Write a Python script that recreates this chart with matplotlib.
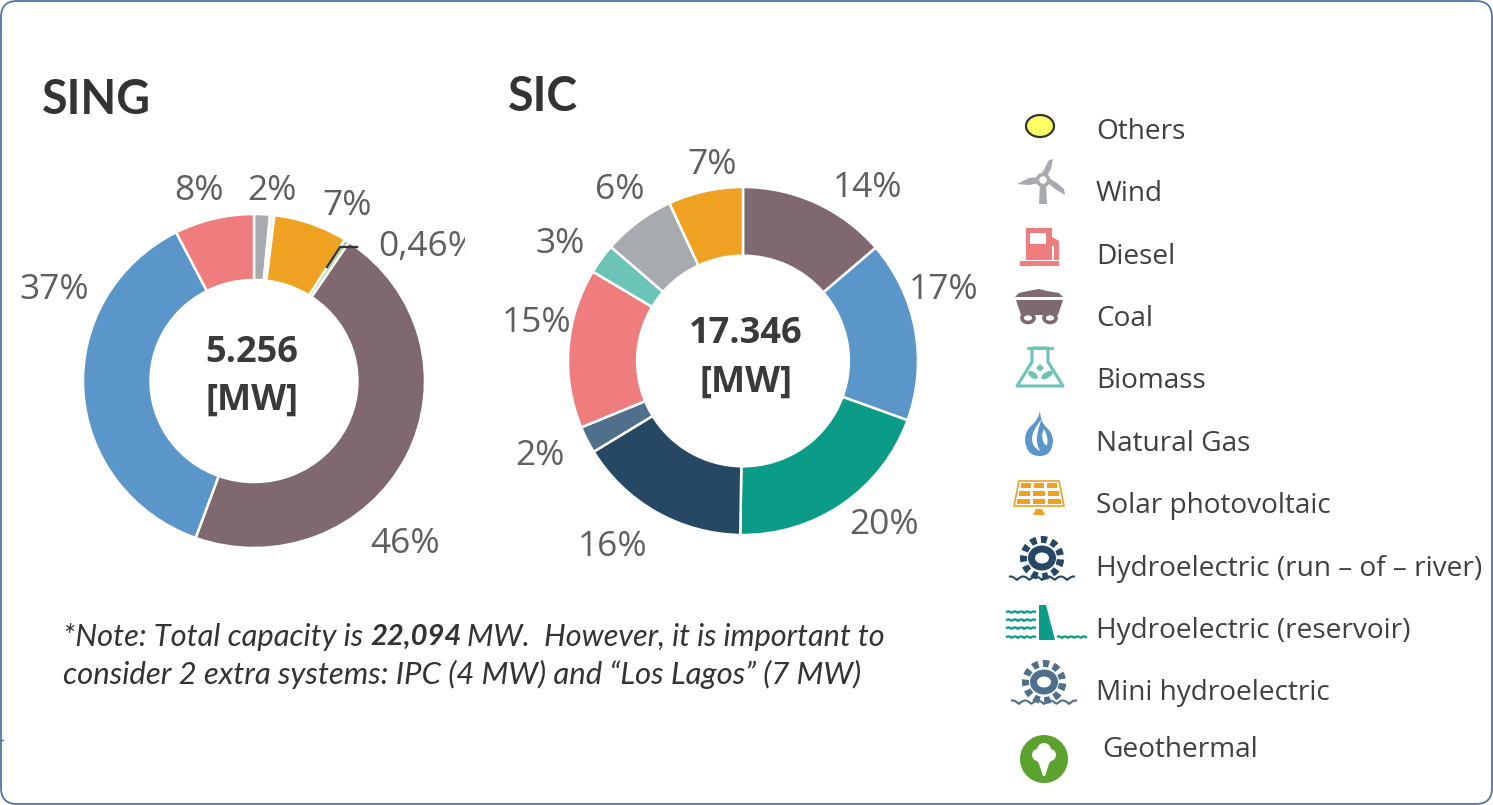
import numpy as np
import matplotlib
matplotlib.use("Agg")
import matplotlib.pyplot as plt
from matplotlib.patches import FancyBboxPatch, Ellipse, Polygon, Rectangle, Circle, Wedge, PathPatch
from matplotlib.path import Path

W, H = 1493, 805

# ---- data ----
sing_names = ["Wind", "Others", "Solar photovoltaic", "Geothermal", "Coal", "Natural Gas", "Diesel"]
sing_values = [1.5, 0.4, 7.0, 0.46, 46.0, 36.8, 7.5]
sing_total = ["5.256", "[MW]"]

sic_names = ["Coal", "Natural Gas", "Hydroelectric (reservoir)", "Hydroelectric (run – of – river)",
             "Mini hydroelectric", "Diesel", "Biomass", "Wind", "Solar photovoltaic"]
sic_values = [13.7, 16.8, 19.7, 16.0, 2.5, 14.8, 2.8, 6.7, 6.9]
sic_total = ["17.346", "[MW]"]

legend_names = ["Others", "Wind", "Diesel", "Coal", "Biomass", "Natural Gas", "Solar photovoltaic",
                "Hydroelectric (run – of – river)", "Hydroelectric (reservoir)", "Mini hydroelectric", "Geothermal"]

colors = {
    "Others": "#F3F3DC", "Wind": "#A7ABB0", "Diesel": "#EF7D7D", "Coal": "#7F6870",
    "Biomass": "#6BC4B5", "Natural Gas": "#5B96CB", "Solar photovoltaic": "#EFA122",
    "Hydroelectric (run – of – river)": "#274864", "Hydroelectric (reservoir)": "#0A9C86",
    "Mini hydroelectric": "#4F6F8A", "Geothermal": "#A9D18E",
}

FONT = "Open Sans"

fig = plt.figure(figsize=(W / 100, H / 100), dpi=100, facecolor="white")
bg = fig.add_axes([0, 0, 1, 1])
bg.set_xlim(0, W); bg.set_ylim(H, 0); bg.axis("off")

bg.add_patch(FancyBboxPatch((1, 1), W - 2, H - 2, boxstyle="round,pad=0,rounding_size=16",
                            fc="white", ec="#4F76A6", lw=1.3))
bg.plot([0, 3], [740, 740], color="#4F76A6", lw=1)


def donut(cx, cy, rx, ry, hole, names, values):
    ax = fig.add_axes([(cx - rx) / W, 1 - (cy + ry) / H, 2 * rx / W, 2 * ry / H])
    ax.pie(values, colors=[colors[n] for n in names], startangle=90, counterclock=False,
           radius=1, wedgeprops=dict(width=1 - hole, edgecolor="white", linewidth=1.8))
    ax.set_xlim(-1, 1); ax.set_ylim(-1, 1); ax.set_aspect("auto")
    for p in ax.patches:
        p.set_clip_on(False)
    return ax


donut(254, 381, 171, 167, 0.605, sing_names, sing_values)
donut(743, 361, 175, 174, 0.605, sic_names, sic_values)

# overlay for what sits on the donuts
fg = fig.add_axes([0, 0, 1, 1], zorder=10)
fg.set_xlim(0, W); fg.set_ylim(H, 0); fg.axis("off"); fg.patch.set_alpha(0)

# titles
fg.text(42, 100, "SING", fontsize=33.5, fontweight="bold", family="Lato", color="#333333", va="center")
fg.text(508, 97, "SIC", fontsize=33.5, fontweight="bold", family="Lato", color="#333333", va="center")

# centre totals
for (x, y, s) in [(252, 353, sing_total[0]), (252, 401, sing_total[1]),
                  (746, 334, sic_total[0]), (746, 383, sic_total[1])]:
    fg.text(x, y, s, fontsize=26, fontweight="bold", family=FONT, color="#3A3A3A", ha="center", va="center")

# percent labels
pct = [("8%", 199, 191), ("2%", 272, 191), ("7%", 347, 206), ("46%", 405, 544), ("37%", 54, 290),
       ("14%", 868, 188), ("17%", 944, 290), ("20%", 884, 525), ("16%", 613, 547), ("2%", 540, 456),
       ("15%", 537, 323), ("3%", 560, 244), ("6%", 620, 190), ("7%", 712, 165)]
for s, x, y in pct:
    fg.text(x, y, s, fontsize=25.5, family=FONT, color="#5F5F5F", ha="center", va="center")
t = fg.text(378, 247, "0,46%", fontsize=25.5, family=FONT, color="#5F5F5F", ha="left", va="center", clip_on=True)
t.set_clip_path(Rectangle((0, 0), 465, H, transform=fg.transData))
fg.plot([327, 340, 357], [267, 247, 247], color="#333333", lw=1.7)

# note
NOTE = dict(style="italic", family="Lato", color="#333333", va="center")
fg.text(63, 636.5, "*Note: Total capacity is", fontsize=22.2, **NOTE)
fg.text(370, 636.5, "22,094", fontsize=21, fontweight="bold", **NOTE)
fg.text(467, 636.5, "MW.  However, it is important to", fontsize=22.1, **NOTE)
fg.text(63, 674.5, "consider 2 extra systems: IPC (4 MW) and “Los Lagos” (7 MW)", fontsize=22.4, **NOTE)

# legend text
leg_y = [132, 194, 257, 319, 381, 444, 506, 569, 631, 693, 750]
leg_x = [1096] * 10 + [1102]
for n, x, y in zip(legend_names, leg_x, leg_y):
    fg.text(x, y, n, fontsize=20.2, family=FONT, color="#404040", va="center")


# legend icons (decorative)
def icon_others(x, y):
    bg.add_patch(Ellipse((x, y), 28, 22, fc="#FFFF66", ec="#333333", lw=1.6))


def icon_wind(x, y):
    c = colors["Wind"]
    bg.add_patch(Polygon([[x - 3, y + 2], [x + 3, y + 2], [x + 4, y + 24], [x - 4, y + 24]], fc=c, ec="none"))
    bg.add_patch(Polygon([[x - 3, y - 3], [x + 6, y - 20], [x + 10, y - 21], [x + 8, y - 11], [x + 3, y - 2]], fc=c, ec="none"))
    bg.add_patch(Polygon([[x - 3, y - 3], [x - 14, y - 2], [x - 26, y + 4], [x - 14, y + 5], [x - 3, y + 3]], fc=c, ec="none"))
    bg.add_patch(Polygon([[x + 4, y + 2], [x + 12, y + 9], [x + 22, y + 15], [x + 21, y + 9], [x + 14, y + 3], [x + 6, y - 2]],
                         fc=c, ec="none"))
    bg.add_patch(Circle((x, y), 5.5, fc="white", ec=c, lw=2.5))


def icon_diesel(x, y):
    c = colors["Diesel"]
    bg.add_patch(Rectangle((x - 20, y + 10), 39, 5, fc=c, ec="none"))
    bg.add_patch(Rectangle((x - 14, y - 23), 26, 32, fc=c, ec="none"))
    bg.add_patch(Rectangle((x - 10, y - 18), 16, 11, fc="white", ec="none"))
    bg.add_patch(Polygon([[x + 12, y - 14], [x + 19, y - 10], [x + 19, y + 9], [x + 14, y + 9], [x + 14, y - 5], [x + 12, y - 5]],
                         fc=c, ec="none"))


def icon_coal(x, y):
    c = colors["Coal"]
    bg.add_patch(Polygon([[x - 24, y - 5], [x - 20, y - 9], [x - 6, y - 12], [x, y - 13], [x + 8, y - 11], [x + 20, y - 9],
                          [x + 24, y - 5]], fc=c, ec="none"))
    bg.add_patch(Polygon([[x - 23, y - 2], [x + 24, y - 2], [x + 19, y + 13], [x - 18, y + 13]], fc=c, ec="none"))
    for dx in (-11, 11):
        bg.add_patch(Ellipse((x + dx, y + 16), 12, 9, fc="white", ec=c, lw=2.6))


def icon_biomass(x, y):
    c = colors["Biomass"]
    bg.add_patch(Polygon([[x - 8, y - 20], [x + 8, y - 20], [x + 8, y - 6], [x + 23, y + 18], [x - 23, y + 18], [x - 8, y - 6]],
                         fc="white", ec=c, lw=2.2, joinstyle="round"))
    bg.plot([x - 12, x + 12], [y - 20, y - 20], color=c, lw=2)
    bg.add_patch(Polygon([[x, y - 4], [x + 4, y], [x, y + 4], [x - 4, y]], fc=c, ec="none"))
    bg.add_patch(Ellipse((x - 7, y + 7), 11, 6, angle=35, fc=c, ec="none"))
    bg.add_patch(Ellipse((x + 7, y + 7), 13, 6, angle=-30, fc=c, ec="none"))


def icon_gas(x, y):
    c = colors["Natural Gas"]
    verts = [(x + 1, y - 23), (x + 1, y - 12), (x + 7, y - 6), (x + 14, y), (x + 14, y + 8), (x + 13, y + 23), (x + 1, y + 23),
             (x - 13, y + 23), (x - 14, y + 7), (x - 14, y - 2), (x - 7, y - 8), (x, y - 14), (x + 1, y - 23)]
    bg.add_patch(PathPatch(Path(verts, [Path.MOVETO] + [Path.CURVE3] * 12), fc=c, ec="none"))
    w1 = [(x + 3, y - 14), (x - 7, y - 3), (x - 7, y + 6), (x - 7, y + 14), (x + 1, y + 18),
          (x - 3, y + 10), (x - 2, y + 4), (x - 1, y - 6), (x + 3, y - 14)]
    bg.add_patch(PathPatch(Path(w1, [Path.MOVETO] + [Path.CURVE3] * 8), fc="white", ec="none"))
    w2 = [(x + 5, y - 4), (x + 2, y + 2), (x + 4, y + 8), (x + 6, y + 13), (x + 8, y + 12),
          (x + 10, y + 5), (x + 5, y - 4)]
    bg.add_patch(PathPatch(Path(w2, [Path.MOVETO] + [Path.CURVE3] * 6), fc="white", ec="none"))


def icon_solar(x, y):
    c = colors["Solar photovoltaic"]
    bg.add_patch(Polygon([[x - 20, y - 19], [x + 20, y - 19], [x + 25, y + 6], [x - 25, y + 6]], fc="white", ec=c, lw=1.2))
    for row, yy in enumerate((-15, -7, 1)):
        for k in (-1, 0, 1):
            wd = 10 + row * 1.2
            bg.add_patch(Rectangle((x + k * (13 + row * 1.2) - wd / 2, y + yy - 2.5), wd, 5, fc=c, ec="none"))
    bg.add_patch(Polygon([[x - 3, y + 9], [x + 3, y + 9], [x + 6, y + 15], [x - 6, y + 15]], fc=c, ec="none"))


def icon_wheel(x, y, c):
    bg.add_patch(Ellipse((x, y - 7), 28, 25, fc=c, ec="none"))
    bg.add_patch(Ellipse((x, y - 7), 14, 11, fc="white", ec="none"))
    for a in np.arange(5, 365, 32.7):
        bg.add_patch(Wedge((x, y - 7), 22, a, a + 19, width=7, fc=c, ec="none"))
    xs = np.arange(x - 32, x + 33, 1.0)
    bg.plot(xs, y + 15 - 3.5 * np.abs(np.sin((xs - x) / 4.0)), color=c, lw=1.5)


def icon_reservoir(x, y):
    c = colors["Hydroelectric (reservoir)"]
    bg.add_patch(Polygon([[x - 4, y - 17], [x + 3, y - 17], [x + 12, y + 18], [x - 4, y + 18]], fc=c, ec="none"))
    for dy in (-9, -1, 7, 16):
        xs = np.arange(x - 36, x - 7, 1.0)
        bg.plot(xs, y + dy - 1.6 * np.abs(np.sin((xs - x) / 2.0)), color=c, lw=1.6)
    xs = np.arange(x + 15, x + 44, 1.0)
    bg.plot(xs, y + 16 - 1.6 * np.abs(np.sin((xs - x) / 2.0)), color=c, lw=1.6)


def icon_geo(x, y):
    bg.add_patch(Circle((x, y), 24, fc="#5BA22F", ec="none"))
    for dx, dy, r in [(0, -9, 7), (-6, -4, 6), (6, -4, 6), (0, -2, 8)]:
        bg.add_patch(Circle((x + dx, y + dy), r, fc="white", ec="none"))
    bg.add_patch(Polygon([[x - 6, y + 2], [x + 6, y + 2], [x + 1, y + 17], [x - 1, y + 17]], fc="white", ec="none"))


icon_others(1040, 126)
icon_wind(1043, 180)
icon_diesel(1040, 251)
icon_coal(1039, 302)
icon_biomass(1040, 368)
icon_gas(1039, 433)
icon_solar(1039, 500)
icon_wheel(1042, 565, colors["Hydroelectric (run – of – river)"])
icon_reservoir(1043, 622)
icon_wheel(1044, 689, colors["Mini hydroelectric"])
icon_geo(1044, 759)

fig.savefig("out.png", dpi=100)
